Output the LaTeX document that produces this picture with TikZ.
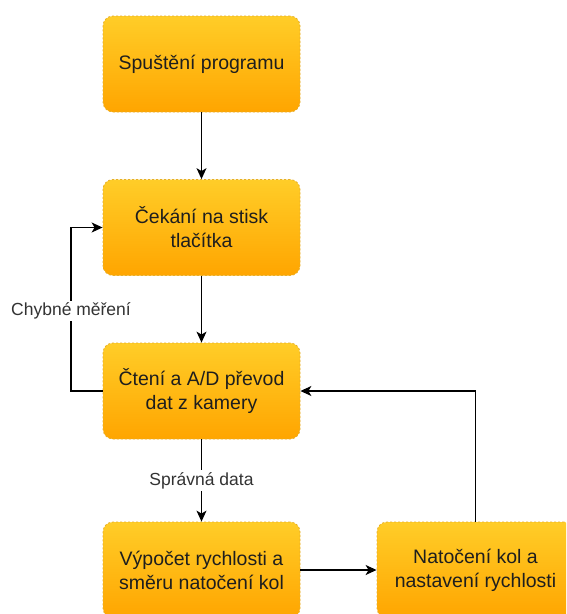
\documentclass[tikz,border=0pt]{standalone}
\usepackage{fontspec}
\setmainfont{Liberation Sans}
\usetikzlibrary{arrows.meta,calc}
\definecolor{boxtop}{RGB}{255,205,40}
\definecolor{boxbot}{RGB}{255,165,0}
\definecolor{boxline}{RGB}{230,175,40}
\definecolor{txt}{RGB}{30,30,30}
\definecolor{labtxt}{RGB}{51,51,51}
\tikzset{
  stepbox/.style={draw=boxline, dash pattern=on 2pt off 2pt, line width=0.8pt,
    rounded corners=10pt, top color=boxtop, bottom color=boxbot,
    minimum width=197pt, minimum height=96pt, align=center,
    font=\fontsize{19.5}{24}\selectfont, text=txt, inner sep=2pt},
  conn/.style={line width=1.3pt, -{Stealth[length=11pt,width=10pt,inset=3pt]}},
  lab/.style={fill=white, text=labtxt, font=\fontsize{17.5}{20}\selectfont, inner sep=2pt}
}
\begin{document}
\begin{tikzpicture}[x=1pt,y=-1pt]
\useasboundingbox (0,0) rectangle (566,614);
\clip (0,0) rectangle (566,614);
\fill[white] (0,0) rectangle (566,614);
\node[stepbox] (b1) at (201.5,64) {Spuštění programu};
\node[stepbox] (b2) at (201.5,227.5) {Čekání na stisk\\tlačítka};
\node[stepbox] (b3) at (201.5,391) {Čtení a A/D převod\\dat z kamery};
\node[stepbox] (b4) at (201.5,570) {Výpočet rychlosti a\\směru natočení kol};
\node[stepbox] (b5) at (475.5,570) {Natočení kol a\\nastavení rychlosti};
\draw[conn] (b1) -- (b2);
\draw[conn] (b2) -- (b3);
\draw[conn] (b3) -- node[lab] {Správná data} (b4);
\draw[conn] (b4) -- (b5);
\coordinate (lx) at (71,0);
\draw[conn] (b3.west) -| (lx |- b2.west) -- (b2.west);
\node[lab] (l1) at (71,311) {Chybné měření};
\draw[conn] (b5.north) |- (b3.east);
\end{tikzpicture}
\end{document}
